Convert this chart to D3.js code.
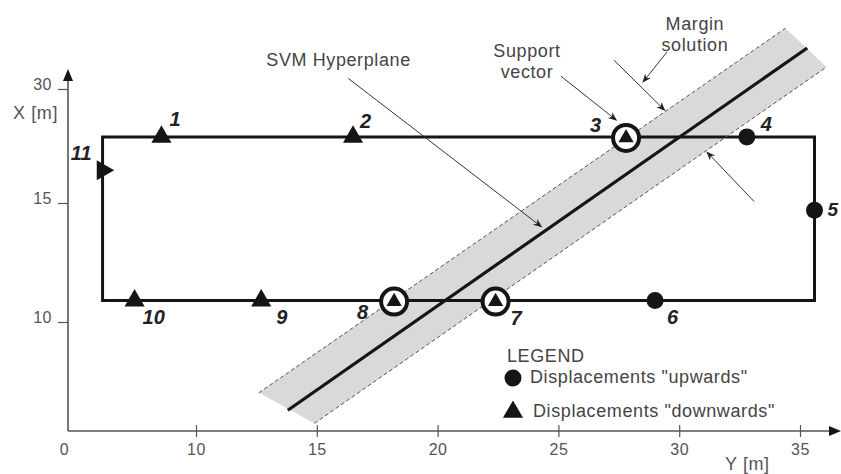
<!DOCTYPE html>
<html><head><meta charset="utf-8">
<script src="https://cdn.jsdelivr.net/npm/d3@7"></script>
<style>
html,body{margin:0;padding:0;background:#fff;}
svg{display:block;font-family:"Liberation Sans",Arial,sans-serif;}
</style></head><body>
<svg id="chart" width="841" height="474"></svg>
<script>
// ---------- data (horizontal axis = "Y [m]", vertical axis = "X [m]") ----------
const pointIds   = ["1","2","3","4","5","6","7","8","9","10","11"];
const pointY     = [7.3, 16.5, 27.8, 32.8, 35.6, 29.0, 22.4, 18.2, 12.7, 5.2, 2.7];
const pointX     = [23.7, 23.7, 23.7, 23.7, 14.7, 10.9, 10.9, 10.9, 10.9, 10.9, 19.3];
const pointKind  = ["down","down","down","up","up","up","down","down","down","down","side"];
const supportVec = [false,false,true,false,false,false,true,true,false,false,false];

const boundaryY  = [2.7, 35.6, 35.6, 2.7];
const boundaryX  = [23.7, 23.7, 10.9, 10.9];

const hyperplaneY   = [13.8, 35.3];
const hyperplaneX   = [1.9, 35.4];
const marginUpperY  = [12.6, 34.4];
const marginUpperX  = [3.5, 38.0];
const marginLowerY  = [14.9, 36.1];
const marginLowerX  = [0.7, 32.9];

const xTicks = [0, 10, 15, 20, 25, 30, 35];
const yTicks = [10, 15, 30];

const annotationText = [["SVM Hyperplane"], ["Support", "vector"], ["Margin", "solution"]];
const annotationAtY  = [15.9, 23.7, 30.65];
const annotationAtX  = [33.0, 34.2, 37.8];

const arrowFromY = [16.3, 25.1, 29.5, 27.3, 33.1];
const arrowFromX = [31.4, 31.7, 34.9, 33.8, 15.2];
const arrowToY   = [24.3, 27.4, 28.5, 29.4, 31.15];
const arrowToX   = [14.0, 25.9, 30.9, 27.2, 21.7];

const legendTitle  = "LEGEND";
const legendLabels = ['Displacements "upwards"', 'Displacements "downwards"'];
const legendKinds  = ["up", "down"];

// ---------- drawing ----------
const svg = d3.select("#chart");
const sx = d3.scaleLinear().domain([0, 10, 35]).range([68, 196, 800]);
const sy = d3.scaleLinear().domain([0, 10, 15, 30]).range([431, 322, 203, 89]);

const axisColor = "#555";
const textColor = "#444";
const ink = "#151515";

const defs = svg.append("defs");
defs.append("marker").attr("id","ah").attr("viewBox","0 0 10 10")
  .attr("refX",9).attr("refY",5).attr("markerWidth",9).attr("markerHeight",9)
  .attr("markerUnits","userSpaceOnUse").attr("orient","auto")
  .append("path").attr("d","M0,1 L10,5 L0,9 L3,5 Z").attr("fill","#222");

// margin band
const bandPts = [
  [sx(marginUpperY[0]), sy(marginUpperX[0])],
  [sx(marginUpperY[1]), sy(marginUpperX[1])],
  [sx(marginLowerY[1]), sy(marginLowerX[1])],
  [sx(marginLowerY[0]), sy(marginLowerX[0])]
];
svg.append("path").attr("d", d3.line()(bandPts) + "Z").attr("fill", "#d9d9d9");

// axes
const gx = svg.append("g").attr("transform", `translate(0,${sy(0)})`)
  .call(d3.axisBottom(sx).tickValues(xTicks).tickFormat(d3.format("d")));
gx.select(".domain").remove();
gx.selectAll(".tick line").attr("y1", -6).attr("y2", 6).attr("stroke", axisColor).attr("stroke-width", 1.2)
  .filter(d => d === 0).remove();
gx.selectAll(".tick text").attr("y", 24).attr("dy", 0)
  .attr("font-size", 16).attr("letter-spacing", 0.5).attr("fill", axisColor)
  .attr("font-family", '"Liberation Sans",Arial,sans-serif')
  .attr("dx", d => d === 0 ? -4 : 0);

const gy = svg.append("g").attr("transform", `translate(${sx(0)},0)`)
  .call(d3.axisLeft(sy).tickValues(yTicks).tickSize(10));
gy.select(".domain").remove();
gy.selectAll(".tick line").attr("stroke", axisColor).attr("stroke-width", 1.2);
gy.selectAll(".tick text").attr("x", -16).attr("dy", 0)
  .attr("font-size", 16).attr("letter-spacing", 0.5).attr("fill", axisColor)
  .attr("font-family", '"Liberation Sans",Arial,sans-serif');

// axis lines with arrowheads
svg.append("line").attr("x1", sx(0)).attr("y1", sy(0)).attr("x2", 832).attr("y2", sy(0))
  .attr("stroke", axisColor).attr("stroke-width", 1.6);
svg.append("path").attr("d", `M841,${sy(0)} L829,${sy(0)-5} L829,${sy(0)+5} Z`).attr("fill", ink);
svg.append("line").attr("x1", sx(0)).attr("y1", sy(0)).attr("x2", sx(0)).attr("y2", 80)
  .attr("stroke", axisColor).attr("stroke-width", 1.6);
svg.append("path").attr("d", `M${sx(0)},69 L${sx(0)-5},81 L${sx(0)+5},81 Z`).attr("fill", ink);

svg.append("text").attr("x", 13).attr("y", 119).text("X [m]")
  .attr("font-size", 18).attr("letter-spacing", 0.6).attr("fill", axisColor);
svg.append("text").attr("x", 725).attr("y", 470).text("Y [m]")
  .attr("font-size", 18).attr("letter-spacing", 0.6).attr("fill", axisColor);

// measurement boundary
const bPts = boundaryY.map((v, i) => [sx(v), sy(boundaryX[i])]);
svg.append("path").attr("d", d3.line()(bPts) + "Z")
  .attr("fill", "none").attr("stroke", ink).attr("stroke-width", 3);

// hyperplane and margin edges
svg.append("line")
  .attr("x1", sx(hyperplaneY[0])).attr("y1", sy(hyperplaneX[0]))
  .attr("x2", sx(hyperplaneY[1])).attr("y2", sy(hyperplaneX[1]))
  .attr("stroke", ink).attr("stroke-width", 3.2);
[[marginUpperY, marginUpperX], [marginLowerY, marginLowerX]].forEach(([my, mx]) => {
  svg.append("line")
    .attr("x1", sx(my[0])).attr("y1", sy(mx[0]))
    .attr("x2", sx(my[1])).attr("y2", sy(mx[1]))
    .attr("stroke", "#555").attr("stroke-width", 1).attr("stroke-dasharray", "4,2.5");
});

// annotation arrows
arrowFromY.forEach((v, i) => {
  svg.append("line")
    .attr("x1", sx(v)).attr("y1", sy(arrowFromX[i]))
    .attr("x2", sx(arrowToY[i])).attr("y2", sy(arrowToX[i]))
    .attr("stroke", "#333").attr("stroke-width", 1).attr("marker-end", "url(#ah)");
});

// annotation text
annotationText.forEach((lines, i) => {
  const t = svg.append("text").attr("x", sx(annotationAtY[i])).attr("y", sy(annotationAtX[i]))
    .attr("text-anchor", "middle").attr("font-size", 18).attr("letter-spacing", 0.6).attr("fill", textColor);
  lines.forEach((l, j) => t.append("tspan").attr("x", sx(annotationAtY[i])).attr("dy", j === 0 ? 0 : 21).text(l));
});

// markers
const triSize = 175, triSmall = 100;
function drawMarker(g, kind, cx, cy, small) {
  if (kind === "up") {
    g.append("circle").attr("cx", cx).attr("cy", cy).attr("r", 8.5).attr("fill", ink);
  } else {
    g.append("path").attr("d", d3.symbol(d3.symbolTriangle, small ? triSmall : triSize)())
      .attr("transform", `translate(${cx},${cy}) rotate(${kind === "side" ? 90 : 0})`)
      .attr("fill", ink);
  }
}
const labelOffset = {
  "1": [8, -11, "start"], "2": [7, -9, "start"], "3": [-25, -5, "end"], "4": [14, -6, "start"],
  "5": [13, 6, "start"], "6": [12, 23, "start"], "7": [15, 24, "start"], "8": [-26, 18, "end"],
  "9": [15, 23, "start"], "10": [8, 23, "start"], "11": [-11, -10, "end"]
};
pointIds.forEach((id, i) => {
  const cx = sx(pointY[i]), cy = sy(pointX[i]);
  const g = svg.append("g");
  if (supportVec[i]) {
    g.append("circle").attr("cx", cx).attr("cy", cy + 1).attr("r", 13)
      .attr("fill", "#fff").attr("stroke", ink).attr("stroke-width", 4);
    drawMarker(g, pointKind[i], cx, cy + 1, true);
  } else {
    drawMarker(g, pointKind[i], cx, cy, false);
  }
  const o = labelOffset[id];
  svg.append("text").attr("x", cx + o[0]).attr("y", cy + o[1]).attr("text-anchor", o[2])
    .attr("font-size", id === "5" ? 19 : 20).attr("font-weight", "bold").attr("font-style", "italic")
    .attr("fill", "#222").text(id);
});

// legend
const lg = svg.append("g");
lg.append("text").attr("x", 507).attr("y", 362).text(legendTitle)
  .attr("font-size", 18).attr("letter-spacing", 0.6).attr("fill", textColor);
legendLabels.forEach((lab, i) => {
  const yy = 378 + i * 34;
  drawMarker(lg, legendKinds[i], 513, yy, false);
  lg.append("text").attr("x", 530 + i * 3).attr("y", yy + 5).text(lab)
    .attr("font-size", 18).attr("letter-spacing", 0.6).attr("fill", textColor);
});
</script>
</body></html>
